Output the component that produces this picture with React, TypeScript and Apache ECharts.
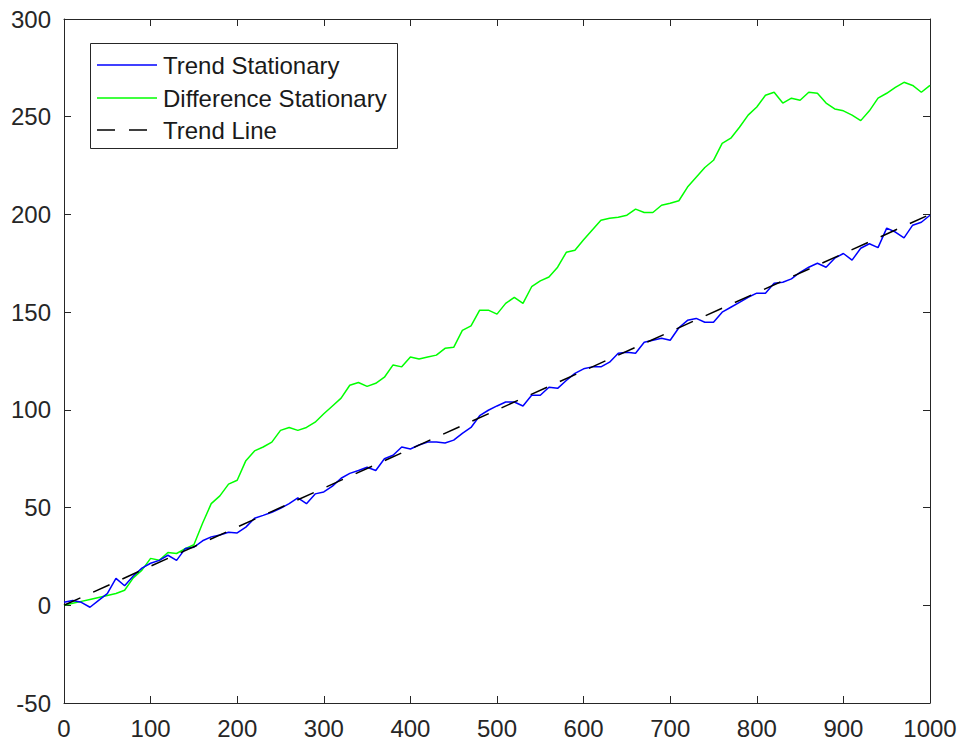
import React, { useEffect, useRef } from "react";
import * as echarts from "echarts";

const xValues = [
  0, 10, 20, 30, 40, 50, 60, 70, 80, 90, 100, 110, 120, 130, 140, 150, 160, 170, 180, 190,
  200, 210, 220, 230, 240, 250, 260, 270, 280, 290, 300, 310, 320, 330, 340, 350, 360, 370, 380, 390,
  400, 410, 420, 430, 440, 450, 460, 470, 480, 490, 500, 510, 520, 530, 540, 550, 560, 570, 580, 590,
  600, 610, 620, 630, 640, 650, 660, 670, 680, 690, 700, 710, 720, 730, 740, 750, 760, 770, 780, 790,
  800, 810, 820, 830, 840, 850, 860, 870, 880, 890, 900, 910, 920, 930, 940, 950, 960, 970, 980, 990, 1000,
];

const trendStationary = [
  1.5, 2.5, 1.5, -1, 2.5, 6, 13.8, 10, 15, 19, 21.5, 23, 25.6, 23, 29, 29.7, 33, 35, 36, 37.4,
  37, 40, 44.5, 46, 47.6, 49.6, 52, 55, 52, 57, 58, 61, 65, 67.5, 69, 70.6, 69, 75, 76.8, 81,
  80, 82, 83.5, 83.5, 83, 84.5, 88, 91, 97, 99.8, 102, 104, 104, 102, 107.5, 107.5, 111.6, 111, 115, 118.7,
  121, 122, 122, 124.4, 129, 129.5, 129, 134.6, 135.6, 136.6, 135.6, 142, 145.8, 146.8, 144.8, 144.8, 150, 152.5, 155, 157.6,
  159.7, 159.7, 164.8, 165.3, 167, 170.4, 173, 175, 173, 177.6, 180, 176.6, 182.7, 185, 183, 193, 191, 188, 194.5, 196, 199.6,
];

const differenceStationary = [
  0, 1, 2, 3, 4, 5, 6, 7.7, 14, 18, 24, 23, 27, 26.5, 29, 31, 42, 52, 56, 62,
  64, 74, 79, 81, 83.5, 89.5, 91, 89.5, 91, 93.7, 98, 102, 106, 112.6, 114, 112, 113.6, 116.7, 123, 122,
  127, 126, 127, 128, 131.5, 132, 140.7, 143, 151, 151, 149, 154.5, 157.6, 154.5, 163, 166, 168, 173, 180.6, 181.7,
  187, 192, 197, 198, 198.6, 199.6, 202.7, 201, 201, 204.7, 205.7, 207, 214, 219, 224, 227.7, 236.4, 239, 244.6, 250.8,
  255, 261, 262.5, 257, 259.5, 258.4, 262.5, 262, 257, 254, 253, 250.8, 248, 253, 259.5, 262, 265, 267.6, 266, 262.5, 266,
];

const trendX = [0, 1000];
const trendY = [0, 200];

const xTicks = [0, 100, 200, 300, 400, 500, 600, 700, 800, 900, 1000];
const yTicks = [-50, 0, 50, 100, 150, 200, 250, 300];

const seriesNames = ["Trend Stationary", "Difference Stationary", "Trend Line"];
const seriesColors = ["#0000ff", "#00ff00", "#000000"];

export default function App() {
  const ref = useRef<HTMLDivElement>(null);

  useEffect(() => {
    if (!ref.current) return;
    const chart = echarts.init(ref.current, undefined, { renderer: "svg" });
    const axisColor = "#262626";
    const font = "Arial, 'Liberation Sans', Helvetica, sans-serif";
    const dash = [18, 14];
    const pair = (xs: number[], ys: number[]) => xs.map((x, i) => [x, ys[i]]);

    const baseX = {
      type: "value" as const,
      min: xTicks[0],
      max: xTicks[xTicks.length - 1],
      interval: 100,
      splitLine: { show: false },
      axisLine: { show: true, onZero: false, lineStyle: { color: axisColor, width: 1 } },
      axisTick: { show: true, inside: true, length: 7, lineStyle: { color: axisColor } },
    };
    const baseY = {
      type: "value" as const,
      min: yTicks[0],
      max: yTicks[yTicks.length - 1],
      interval: 50,
      splitLine: { show: false },
      axisLine: { show: true, onZero: false, lineStyle: { color: axisColor, width: 1 } },
      axisTick: { show: true, inside: true, length: 7, lineStyle: { color: axisColor } },
    };

    // Legend drawn as graphic elements
    const legLeft = 90;
    const legTop = 43;
    const legW = 307;
    const legH = 105;
    const rowY = [65, 98, 130];
    const legendChildren: any[] = [
      {
        type: "rect",
        shape: { x: legLeft + 0.5, y: legTop + 0.5, width: legW, height: legH },
        style: { fill: "#ffffff", stroke: axisColor, lineWidth: 1 },
      },
    ];
    seriesNames.forEach((name, i) => {
      legendChildren.push({
        type: "line",
        shape: { x1: 97, y1: rowY[i], x2: 157, y2: rowY[i] },
        style: {
          stroke: seriesColors[i],
          lineWidth: 1.5,
          lineDash: i === 2 ? dash : null,
        },
      });
      legendChildren.push({
        type: "text",
        x: 163,
        y: rowY[i],
        style: {
          text: name,
          fill: "#1a1a1a",
          font: `24px ${font}`,
          verticalAlign: "middle",
          align: "left",
        },
      });
    });

    chart.setOption({
      animation: false,
      backgroundColor: "#ffffff",
      grid: { left: 64, right: 33, top: 19, bottom: 42, containLabel: false },
      xAxis: [
        {
          ...baseX,
          position: "bottom",
          axisLabel: {
            show: true,
            color: axisColor,
            fontSize: 24,
            fontFamily: font,
            margin: 13,
            formatter: (v: number) => String(v),
          },
        },
        { ...baseX, position: "top", axisLabel: { show: false } },
      ],
      yAxis: [
        {
          ...baseY,
          position: "left",
          axisLabel: {
            show: true,
            color: axisColor,
            fontSize: 24,
            fontFamily: font,
            margin: 13,
            padding: [4, 0, 0, 0],
            formatter: (v: number) => String(v),
          },
        },
        { ...baseY, position: "right", axisLabel: { show: false } },
      ],
      graphic: [{ type: "group", z: 100, children: legendChildren }],
      series: [
        {
          name: seriesNames[0],
          type: "line",
          data: pair(xValues, trendStationary),
          showSymbol: false,
          symbol: "none",
          lineStyle: { color: seriesColors[0], width: 1.5 },
          z: 3,
        },
        {
          name: seriesNames[1],
          type: "line",
          data: pair(xValues, differenceStationary),
          showSymbol: false,
          symbol: "none",
          lineStyle: { color: seriesColors[1], width: 1.5 },
          z: 2,
        },
        {
          name: seriesNames[2],
          type: "line",
          data: pair(trendX, trendY),
          showSymbol: false,
          symbol: "none",
          lineStyle: { color: seriesColors[2], width: 1.5, type: dash },
          z: 4,
        },
      ],
    });

    return () => chart.dispose();
  }, []);

  return (
    <div
      ref={ref}
      style={{ position: "fixed", left: 0, top: 0, width: 963, height: 745, background: "#fff" }}
    />
  );
}
